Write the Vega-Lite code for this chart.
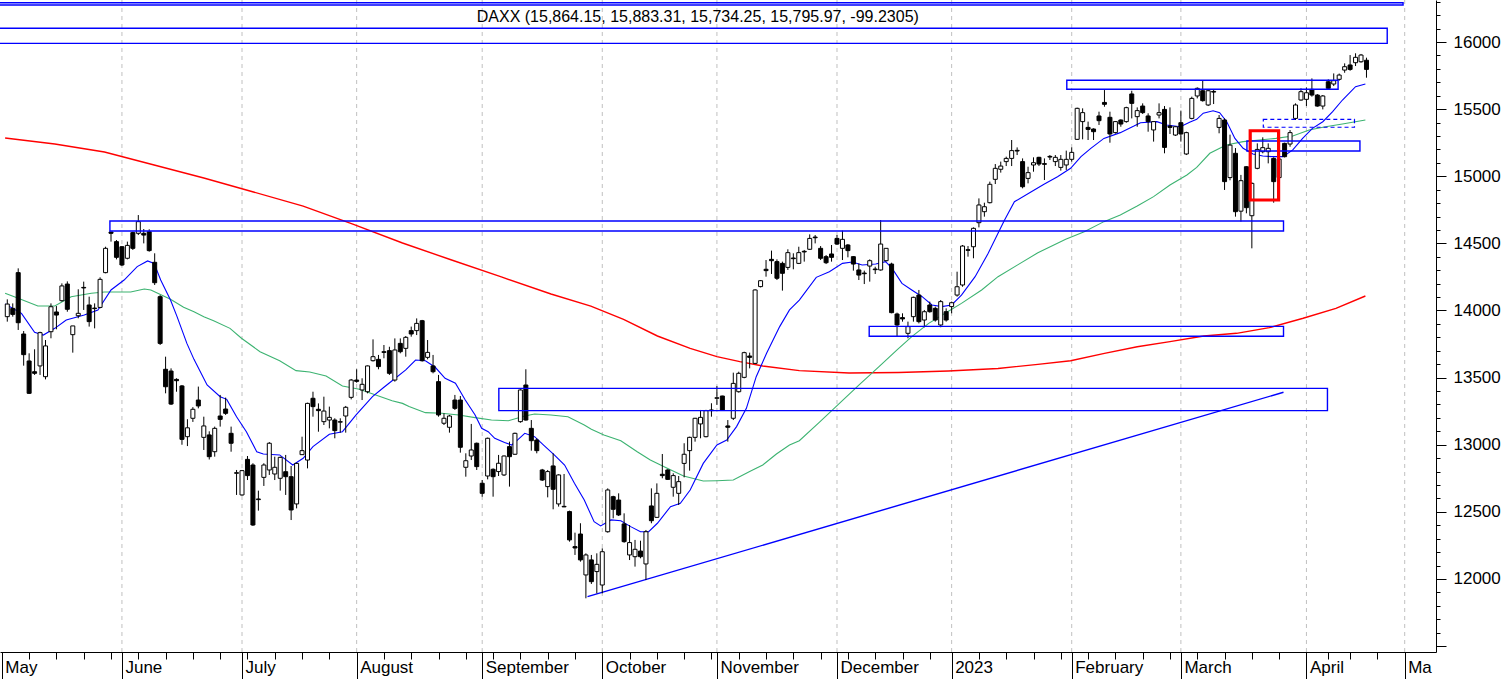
{
  "$schema": "https://vega.github.io/schema/vega-lite/v6.json",
  "width": 1436,
  "height": 652,
  "autosize": {"type": "none"},
  "padding": {"left": 0, "top": 0, "right": 70, "bottom": 27},
  "background": "white",
  "config": {
    "view": {"stroke": null},
    "font": "Liberation Sans",
    "axis": {"labelFont": "Liberation Sans", "labelFontSize": 17, "labelColor": "black", "domainColor": "black", "tickColor": "black", "domainWidth": 1, "tickWidth": 1}
  },
  "resolve": {"axis": {"x": "independent", "y": "independent"}},
  "datasets": {
    "candles": [
      {"i":1,"o":13954,"h":14083,"l":13917,"c":14048},
      {"i":2,"o":14016,"h":14053,"l":13954,"c":13971},
      {"i":3,"o":14282,"h":14314,"l":13855,"c":13909},
      {"i":4,"o":13825,"h":13847,"l":13589,"c":13671},
      {"i":5,"o":13624,"h":13681,"l":13378,"c":13383},
      {"i":6,"o":13544,"h":13711,"l":13520,"c":13532},
      {"i":7,"o":13587,"h":13842,"l":13520,"c":13835},
      {"i":8,"o":13507,"h":13780,"l":13487,"c":13736},
      {"i":9,"o":13842,"h":14053,"l":13793,"c":14028},
      {"i":10,"o":13989,"h":14033,"l":13860,"c":13966},
      {"i":11,"o":14073,"h":14202,"l":14066,"c":14183},
      {"i":12,"o":14197,"h":14217,"l":13991,"c":14009},
      {"i":13,"o":13820,"h":13885,"l":13686,"c":13885},
      {"i":14,"o":13961,"h":14158,"l":13942,"c":13979},
      {"i":15,"o":14172,"h":14215,"l":14004,"c":14168},
      {"i":16,"o":14041,"h":14103,"l":13880,"c":13917},
      {"i":17,"o":14018,"h":14053,"l":13867,"c":14014},
      {"i":18,"o":14023,"h":14247,"l":14016,"c":14232},
      {"i":19,"o":14282,"h":14475,"l":14277,"c":14463},
      {"i":20,"o":14585,"h":14587,"l":14513,"c":14575},
      {"i":21,"o":14513,"h":14525,"l":14381,"c":14396},
      {"i":22,"o":14475,"h":14480,"l":14331,"c":14339},
      {"i":23,"o":14389,"h":14513,"l":14381,"c":14485},
      {"i":24,"o":14580,"h":14587,"l":14451,"c":14463},
      {"i":25,"o":14575,"h":14711,"l":14562,"c":14662},
      {"i":26,"o":14575,"h":14607,"l":14500,"c":14562},
      {"i":27,"o":14587,"h":14605,"l":14438,"c":14446},
      {"i":28,"o":14359,"h":14426,"l":14190,"c":14207},
      {"i":29,"o":14103,"h":14115,"l":13743,"c":13755},
      {"i":30,"o":13562,"h":13656,"l":13383,"c":13432},
      {"i":31,"o":13549,"h":13569,"l":13296,"c":13303},
      {"i":32,"o":13487,"h":13495,"l":13395,"c":13477},
      {"i":33,"o":13438,"h":13445,"l":13000,"c":13040},
      {"i":34,"o":13060,"h":13190,"l":12990,"c":13126},
      {"i":35,"o":13197,"h":13280,"l":13170,"c":13264},
      {"i":36,"o":13333,"h":13433,"l":13271,"c":13289},
      {"i":37,"o":13055,"h":13209,"l":12961,"c":13140},
      {"i":38,"o":13073,"h":13100,"l":12890,"c":12911},
      {"i":39,"o":12948,"h":13135,"l":12911,"c":13122},
      {"i":40,"o":13214,"h":13371,"l":13135,"c":13189},
      {"i":41,"o":13266,"h":13351,"l":13222,"c":13234},
      {"i":42,"o":13085,"h":13135,"l":12948,"c":13011},
      {"i":43,"o":12787,"h":12812,"l":12626,"c":12792},
      {"i":44,"o":12626,"h":12812,"l":12620,"c":12807},
      {"i":45,"o":12891,"h":12916,"l":12737,"c":12770},
      {"i":46,"o":12849,"h":12862,"l":12395,"c":12402},
      {"i":47,"o":12596,"h":12658,"l":12509,"c":12591},
      {"i":48,"o":12757,"h":12862,"l":12693,"c":12849},
      {"i":49,"o":12812,"h":13020,"l":12775,"c":13011},
      {"i":50,"o":12782,"h":12911,"l":12737,"c":12832},
      {"i":51,"o":12750,"h":12911,"l":12658,"c":12906},
      {"i":52,"o":12799,"h":12924,"l":12626,"c":12762},
      {"i":53,"o":12762,"h":12842,"l":12439,"c":12514},
      {"i":54,"o":12559,"h":12866,"l":12526,"c":12861},
      {"i":55,"o":12926,"h":13060,"l":12924,"c":12956},
      {"i":56,"o":12886,"h":13313,"l":12824,"c":13308},
      {"i":57,"o":13346,"h":13395,"l":13209,"c":13284},
      {"i":58,"o":13264,"h":13308,"l":13097,"c":13254},
      {"i":59,"o":13172,"h":13358,"l":13147,"c":13251},
      {"i":60,"o":13184,"h":13284,"l":13122,"c":13204},
      {"i":61,"o":13184,"h":13197,"l":13048,"c":13105},
      {"i":62,"o":13168,"h":13197,"l":13090,"c":13172},
      {"i":63,"o":13214,"h":13289,"l":13090,"c":13279},
      {"i":64,"o":13353,"h":13490,"l":13338,"c":13482},
      {"i":65,"o":13482,"h":13562,"l":13462,"c":13472},
      {"i":66,"o":13408,"h":13495,"l":13333,"c":13450},
      {"i":67,"o":13395,"h":13590,"l":13383,"c":13587},
      {"i":68,"o":13626,"h":13785,"l":13620,"c":13656},
      {"i":69,"o":13636,"h":13669,"l":13562,"c":13582},
      {"i":70,"o":13693,"h":13743,"l":13644,"c":13688},
      {"i":71,"o":13701,"h":13730,"l":13520,"c":13532},
      {"i":72,"o":13482,"h":13792,"l":13470,"c":13706},
      {"i":73,"o":13755,"h":13792,"l":13681,"c":13693},
      {"i":74,"o":13718,"h":13810,"l":13656,"c":13800},
      {"i":75,"o":13850,"h":13880,"l":13805,"c":13825},
      {"i":76,"o":13850,"h":13941,"l":13817,"c":13904},
      {"i":77,"o":13924,"h":13930,"l":13619,"c":13626},
      {"i":78,"o":13651,"h":13780,"l":13636,"c":13688},
      {"i":79,"o":13587,"h":13669,"l":13532,"c":13544},
      {"i":80,"o":13470,"h":13520,"l":13209,"c":13222},
      {"i":81,"o":13160,"h":13234,"l":13147,"c":13197},
      {"i":82,"o":13130,"h":13222,"l":13090,"c":13214},
      {"i":83,"o":13333,"h":13371,"l":13259,"c":13271},
      {"i":84,"o":13333,"h":13363,"l":12941,"c":12981},
      {"i":85,"o":12832,"h":12936,"l":12762,"c":12881},
      {"i":86,"o":12916,"h":13155,"l":12886,"c":12961},
      {"i":87,"o":13011,"h":13016,"l":12812,"c":12837},
      {"i":88,"o":12713,"h":12737,"l":12613,"c":12638},
      {"i":89,"o":12767,"h":13053,"l":12742,"c":13048},
      {"i":90,"o":12817,"h":12824,"l":12613,"c":12762},
      {"i":91,"o":12800,"h":12924,"l":12767,"c":12862},
      {"i":92,"o":12775,"h":12920,"l":12767,"c":12916},
      {"i":93,"o":12986,"h":13023,"l":12688,"c":12911},
      {"i":94,"o":12929,"h":13090,"l":12925,"c":13085},
      {"i":95,"o":13172,"h":13413,"l":13164,"c":13408},
      {"i":96,"o":13445,"h":13562,"l":13180,"c":13184},
      {"i":97,"o":13122,"h":13184,"l":12956,"c":13030},
      {"i":98,"o":13035,"h":13048,"l":12936,"c":12956},
      {"i":99,"o":12812,"h":12820,"l":12730,"c":12737},
      {"i":100,"o":12688,"h":12812,"l":12608,"c":12800},
      {"i":101,"o":12842,"h":12936,"l":12519,"c":12668},
      {"i":102,"o":12559,"h":12780,"l":12539,"c":12775},
      {"i":103,"o":12541,"h":12782,"l":12535,"c":12537},
      {"i":104,"o":12502,"h":12509,"l":12278,"c":12291},
      {"i":105,"o":12241,"h":12345,"l":12179,"c":12231},
      {"i":106,"o":12335,"h":12415,"l":12129,"c":12142},
      {"i":107,"o":12030,"h":12191,"l":11856,"c":12179},
      {"i":108,"o":12142,"h":12179,"l":11963,"c":11980},
      {"i":109,"o":12055,"h":12191,"l":11893,"c":12109},
      {"i":110,"o":11955,"h":12228,"l":11893,"c":12203},
      {"i":111,"o":12352,"h":12675,"l":12345,"c":12663},
      {"i":112,"o":12613,"h":12620,"l":12452,"c":12519},
      {"i":113,"o":12588,"h":12638,"l":12469,"c":12477},
      {"i":114,"o":12410,"h":12489,"l":12270,"c":12278},
      {"i":115,"o":12179,"h":12402,"l":12141,"c":12271},
      {"i":116,"o":12166,"h":12291,"l":12092,"c":12221},
      {"i":117,"o":12208,"h":12285,"l":12154,"c":12166},
      {"i":118,"o":12112,"h":12365,"l":11992,"c":12352},
      {"i":119,"o":12544,"h":12675,"l":12415,"c":12434},
      {"i":120,"o":12459,"h":12712,"l":12455,"c":12638},
      {"i":121,"o":12780,"h":12931,"l":12750,"c":12770},
      {"i":122,"o":12812,"h":12818,"l":12738,"c":12742},
      {"i":123,"o":12683,"h":12787,"l":12613,"c":12770},
      {"i":124,"o":12638,"h":12767,"l":12551,"c":12725},
      {"i":125,"o":12861,"h":13011,"l":12757,"c":12929},
      {"i":126,"o":12956,"h":13060,"l":12807,"c":13055},
      {"i":127,"o":13055,"h":13200,"l":13023,"c":13197},
      {"i":128,"o":13155,"h":13259,"l":13048,"c":13204},
      {"i":129,"o":13060,"h":13260,"l":13055,"c":13254},
      {"i":130,"o":13259,"h":13309,"l":13209,"c":13254},
      {"i":131,"o":13346,"h":13437,"l":13296,"c":13350},
      {"i":132,"o":13363,"h":13365,"l":13255,"c":13259},
      {"i":133,"o":13140,"h":13184,"l":13023,"c":13130},
      {"i":134,"o":13197,"h":13537,"l":13184,"c":13457},
      {"i":135,"o":13395,"h":13544,"l":13388,"c":13532},
      {"i":136,"o":13502,"h":13693,"l":13495,"c":13686},
      {"i":137,"o":13661,"h":13686,"l":13569,"c":13651},
      {"i":138,"o":13606,"h":14158,"l":13601,"c":14153},
      {"i":139,"o":14178,"h":14227,"l":14172,"c":14222},
      {"i":140,"o":14307,"h":14376,"l":14252,"c":14297},
      {"i":141,"o":14381,"h":14446,"l":14272,"c":14371},
      {"i":142,"o":14364,"h":14381,"l":14227,"c":14240},
      {"i":143,"o":14351,"h":14364,"l":14148,"c":14277},
      {"i":144,"o":14321,"h":14456,"l":14302,"c":14431},
      {"i":145,"o":14391,"h":14426,"l":14307,"c":14386},
      {"i":146,"o":14351,"h":14475,"l":14346,"c":14431},
      {"i":147,"o":14441,"h":14451,"l":14364,"c":14436},
      {"i":148,"o":14456,"h":14567,"l":14451,"c":14537},
      {"i":149,"o":14547,"h":14562,"l":14500,"c":14542},
      {"i":150,"o":14463,"h":14480,"l":14376,"c":14389},
      {"i":151,"o":14401,"h":14413,"l":14346,"c":14356},
      {"i":152,"o":14421,"h":14488,"l":14364,"c":14396},
      {"i":153,"o":14537,"h":14562,"l":14488,"c":14495},
      {"i":154,"o":14463,"h":14595,"l":14376,"c":14530},
      {"i":155,"o":14488,"h":14495,"l":14396,"c":14446},
      {"i":156,"o":14401,"h":14405,"l":14297,"c":14346},
      {"i":157,"o":14302,"h":14351,"l":14227,"c":14264},
      {"i":158,"o":14279,"h":14297,"l":14197,"c":14274},
      {"i":159,"o":14331,"h":14381,"l":14215,"c":14371},
      {"i":160,"o":14309,"h":14326,"l":14272,"c":14304},
      {"i":161,"o":14302,"h":14674,"l":14297,"c":14495},
      {"i":162,"o":14371,"h":14465,"l":14365,"c":14463},
      {"i":163,"o":14346,"h":14356,"l":13979,"c":13984},
      {"i":164,"o":13974,"h":13984,"l":13805,"c":13892},
      {"i":165,"o":13947,"h":13979,"l":13917,"c":13937},
      {"i":166,"o":13830,"h":13917,"l":13793,"c":13880},
      {"i":167,"o":13954,"h":14103,"l":13917,"c":14098},
      {"i":168,"o":14115,"h":14153,"l":13904,"c":13917},
      {"i":169,"o":13929,"h":14004,"l":13875,"c":13991},
      {"i":170,"o":14041,"h":14066,"l":13984,"c":13991},
      {"i":171,"o":14016,"h":14029,"l":13917,"c":13929},
      {"i":172,"o":13892,"h":14078,"l":13875,"c":14066},
      {"i":173,"o":13991,"h":14016,"l":13917,"c":13929},
      {"i":174,"o":14029,"h":14066,"l":13979,"c":14058},
      {"i":175,"o":14115,"h":14289,"l":14103,"c":14177},
      {"i":176,"o":14190,"h":14488,"l":14177,"c":14480},
      {"i":177,"o":14453,"h":14480,"l":14401,"c":14448},
      {"i":178,"o":14475,"h":14619,"l":14389,"c":14612},
      {"i":179,"o":14654,"h":14835,"l":14619,"c":14786},
      {"i":180,"o":14736,"h":14803,"l":14699,"c":14773},
      {"i":181,"o":14803,"h":14960,"l":14798,"c":14940},
      {"i":182,"o":14977,"h":15091,"l":14942,"c":15059},
      {"i":183,"o":15052,"h":15109,"l":15027,"c":15076},
      {"i":184,"o":15109,"h":15146,"l":15076,"c":15133},
      {"i":185,"o":15133,"h":15270,"l":15076,"c":15191},
      {"i":186,"o":15193,"h":15215,"l":15158,"c":15188},
      {"i":187,"o":15109,"h":15133,"l":14910,"c":14922},
      {"i":188,"o":14984,"h":15071,"l":14947,"c":15027},
      {"i":189,"o":15084,"h":15141,"l":15034,"c":15101},
      {"i":190,"o":15141,"h":15145,"l":15076,"c":15091},
      {"i":191,"o":15094,"h":15133,"l":14972,"c":15089},
      {"i":192,"o":15148,"h":15158,"l":15121,"c":15143},
      {"i":193,"o":15109,"h":15158,"l":15076,"c":15141},
      {"i":194,"o":15066,"h":15158,"l":15042,"c":15126},
      {"i":195,"o":15084,"h":15191,"l":15047,"c":15126},
      {"i":196,"o":15126,"h":15215,"l":15109,"c":15178},
      {"i":197,"o":15275,"h":15511,"l":15270,"c":15506},
      {"i":198,"o":15407,"h":15506,"l":15275,"c":15474},
      {"i":199,"o":15364,"h":15407,"l":15270,"c":15349},
      {"i":200,"o":15352,"h":15357,"l":15270,"c":15332},
      {"i":201,"o":15449,"h":15481,"l":15382,"c":15414},
      {"i":202,"o":15550,"h":15642,"l":15518,"c":15536},
      {"i":203,"o":15439,"h":15481,"l":15250,"c":15315},
      {"i":204,"o":15325,"h":15410,"l":15318,"c":15407},
      {"i":205,"o":15419,"h":15424,"l":15369,"c":15389},
      {"i":206,"o":15407,"h":15518,"l":15399,"c":15511},
      {"i":207,"o":15613,"h":15637,"l":15431,"c":15543},
      {"i":208,"o":15444,"h":15513,"l":15369,"c":15489},
      {"i":209,"o":15523,"h":15543,"l":15464,"c":15474},
      {"i":210,"o":15449,"h":15469,"l":15332,"c":15407},
      {"i":211,"o":15345,"h":15410,"l":15258,"c":15407},
      {"i":212,"o":15456,"h":15543,"l":15431,"c":15474},
      {"i":213,"o":15498,"h":15523,"l":15171,"c":15215},
      {"i":214,"o":15374,"h":15513,"l":15315,"c":15364},
      {"i":215,"o":15307,"h":15372,"l":15300,"c":15369},
      {"i":216,"o":15399,"h":15489,"l":15258,"c":15315},
      {"i":217,"o":15166,"h":15332,"l":15158,"c":15325},
      {"i":218,"o":15431,"h":15593,"l":15424,"c":15580},
      {"i":219,"o":15598,"h":15662,"l":15580,"c":15655},
      {"i":220,"o":15637,"h":15712,"l":15556,"c":15563},
      {"i":221,"o":15531,"h":15647,"l":15523,"c":15637},
      {"i":222,"o":15632,"h":15647,"l":15538,"c":15627},
      {"i":223,"o":15364,"h":15456,"l":15320,"c":15431},
      {"i":224,"o":15419,"h":15431,"l":14898,"c":14960},
      {"i":225,"o":14990,"h":15310,"l":14970,"c":15232},
      {"i":226,"o":15171,"h":15210,"l":14699,"c":14736},
      {"i":227,"o":14740,"h":15010,"l":14662,"c":14967},
      {"i":228,"o":15071,"h":15075,"l":14724,"c":14766},
      {"i":229,"o":14706,"h":14955,"l":14463,"c":14947},
      {"i":230,"o":15059,"h":15245,"l":15052,"c":15200},
      {"i":231,"o":15183,"h":15290,"l":15171,"c":15213},
      {"i":232,"o":15183,"h":15245,"l":15096,"c":15208},
      {"i":233,"o":15133,"h":15141,"l":14803,"c":14960},
      {"i":234,"o":14990,"h":15140,"l":14960,"c":15128},
      {"i":235,"o":15245,"h":15250,"l":15140,"c":15146},
      {"i":236,"o":15240,"h":15344,"l":15220,"c":15325},
      {"i":237,"o":15431,"h":15543,"l":15419,"c":15531},
      {"i":238,"o":15568,"h":15655,"l":15563,"c":15630},
      {"i":239,"o":15573,"h":15662,"l":15523,"c":15622},
      {"i":240,"o":15647,"h":15729,"l":15593,"c":15605},
      {"i":241,"o":15605,"h":15612,"l":15518,"c":15523},
      {"i":242,"o":15523,"h":15605,"l":15498,"c":15598},
      {"i":243,"o":15704,"h":15722,"l":15647,"c":15655},
      {"i":244,"o":15687,"h":15766,"l":15672,"c":15712},
      {"i":245,"o":15722,"h":15765,"l":15712,"c":15754},
      {"i":246,"o":15791,"h":15841,"l":15771,"c":15816},
      {"i":247,"o":15829,"h":15903,"l":15786,"c":15796},
      {"i":248,"o":15846,"h":15916,"l":15821,"c":15886},
      {"i":249,"o":15853,"h":15911,"l":15846,"c":15903},
      {"i":250,"o":15864.15,"h":15883.31,"l":15734.25,"c":15795.97}
    ],
    "ma20": [
      {"i":0.6,"v":14048},{"i":3.6,"v":13979},{"i":6.0,"v":13837},{"i":7.6,"v":13817},{"i":9.7,"v":13867},{"i":11.8,"v":13929},{"i":15.1,"v":13966},{"i":17.6,"v":14004},{"i":20.0,"v":14153},{"i":22.4,"v":14227},{"i":24.8,"v":14327},{"i":26.7,"v":14369},{"i":27.9,"v":14351},{"i":29.1,"v":14227},{"i":30.9,"v":14078},{"i":32.1,"v":13954},{"i":33.9,"v":13755},{"i":35.2,"v":13636},{"i":37.6,"v":13445},{"i":40.0,"v":13358},{"i":41.2,"v":13338},{"i":43.0,"v":13209},{"i":44.8,"v":13097},{"i":46.7,"v":12948},{"i":47.9,"v":12931},{"i":50.9,"v":12924},{"i":53.3,"v":12849},{"i":55.2,"v":12899},{"i":57.0,"v":12986},{"i":60.0,"v":13078},{"i":62.4,"v":13097},{"i":64.9,"v":13222},{"i":67.9,"v":13358},{"i":70.0,"v":13428},{"i":71.5,"v":13477},{"i":74.0,"v":13557},{"i":75.8,"v":13631},{"i":77.6,"v":13626},{"i":79.4,"v":13577},{"i":81.2,"v":13495},{"i":83.1,"v":13458},{"i":84.9,"v":13333},{"i":86.7,"v":13222},{"i":87.9,"v":13122},{"i":89.1,"v":13097},{"i":90.3,"v":13048},{"i":92.1,"v":13016},{"i":93.4,"v":12998},{"i":94.6,"v":13040},{"i":95.8,"v":13085},{"i":97.6,"v":13060},{"i":99.4,"v":12991},{"i":101.2,"v":12924},{"i":103.1,"v":12849},{"i":104.9,"v":12713},{"i":106.7,"v":12588},{"i":108.5,"v":12427},{"i":109.7,"v":12395},{"i":111.6,"v":12440},{"i":113.4,"v":12434},{"i":115.2,"v":12390},{"i":117.0,"v":12352},{"i":118.5,"v":12352},{"i":120.1,"v":12415},{"i":122.5,"v":12539},{"i":124.3,"v":12563},{"i":126.1,"v":12663},{"i":128.5,"v":12861},{"i":131.0,"v":12998},{"i":132.8,"v":13035},{"i":134.6,"v":13135},{"i":136.4,"v":13271},{"i":138.2,"v":13507},{"i":140.1,"v":13681},{"i":142.5,"v":13880},{"i":144.3,"v":14004},{"i":146.1,"v":14078},{"i":149.2,"v":14247},{"i":151.6,"v":14289},{"i":154.0,"v":14351},{"i":155.8,"v":14361},{"i":157.6,"v":14339},{"i":160.1,"v":14346},{"i":161.9,"v":14364},{"i":163.1,"v":14314},{"i":164.9,"v":14202},{"i":166.7,"v":14153},{"i":168.6,"v":14103},{"i":170.4,"v":14041},{"i":172.2,"v":14029},{"i":174.0,"v":14041},{"i":175.8,"v":14115},{"i":178.3,"v":14252},{"i":180.7,"v":14426},{"i":182.5,"v":14575},{"i":183.7,"v":14674},{"i":185.5,"v":14810},{"i":188.6,"v":14885},{"i":191.0,"v":14942},{"i":193.4,"v":14997},{"i":195.8,"v":15059},{"i":197.7,"v":15146},{"i":199.5,"v":15208},{"i":201.9,"v":15282},{"i":204.9,"v":15325},{"i":207.4,"v":15374},{"i":208.6,"v":15399},{"i":211.6,"v":15407},{"i":213.4,"v":15382},{"i":215.9,"v":15369},{"i":217.7,"v":15405},{"i":218.9,"v":15424},{"i":220.1,"v":15470},{"i":221.9,"v":15488},{"i":223.1,"v":15473},{"i":224.4,"v":15406},{"i":225.9,"v":15282},{"i":227.4,"v":15208},{"i":229.2,"v":15166},{"i":231.0,"v":15151},{"i":232.9,"v":15146},{"i":234.7,"v":15146},{"i":236.5,"v":15196},{"i":238.3,"v":15282},{"i":240.1,"v":15357},{"i":242.0,"v":15406},{"i":243.8,"v":15481},{"i":245.6,"v":15568},{"i":248.0,"v":15667},{"i":249.8,"v":15687}
    ],
    "ma50": [
      {"i":0.6,"v":14128},{"i":3.0,"v":14091},{"i":6.6,"v":14033},{"i":9.7,"v":14033},{"i":12.7,"v":14103},{"i":16.4,"v":14128},{"i":18.8,"v":14138},{"i":23.6,"v":14138},{"i":26.1,"v":14160},{"i":27.3,"v":14153},{"i":30.9,"v":14083},{"i":33.3,"v":14024},{"i":35.2,"v":13991},{"i":37.0,"v":13954},{"i":38.8,"v":13924},{"i":41.8,"v":13867},{"i":43.9,"v":13793},{"i":47.3,"v":13693},{"i":50.9,"v":13626},{"i":53.9,"v":13552},{"i":56.4,"v":13542},{"i":59.4,"v":13512},{"i":62.4,"v":13438},{"i":65.5,"v":13413},{"i":68.5,"v":13371},{"i":71.5,"v":13328},{"i":73.4,"v":13308},{"i":74.6,"v":13284},{"i":77.6,"v":13239},{"i":80.6,"v":13234},{"i":83.7,"v":13222},{"i":86.7,"v":13202},{"i":89.7,"v":13184},{"i":92.8,"v":13179},{"i":95.8,"v":13214},{"i":97.6,"v":13229},{"i":100.6,"v":13222},{"i":103.7,"v":13209},{"i":106.7,"v":13147},{"i":108.0,"v":13115},{"i":110.3,"v":13073},{"i":113.4,"v":13030},{"i":116.4,"v":12948},{"i":118.8,"v":12886},{"i":121.9,"v":12824},{"i":124.9,"v":12767},{"i":128.5,"v":12730},{"i":131.0,"v":12732},{"i":134.0,"v":12737},{"i":137.0,"v":12800},{"i":139.4,"v":12849},{"i":141.9,"v":12931},{"i":144.3,"v":12998},{"i":146.1,"v":13030},{"i":149.8,"v":13168},{"i":153.4,"v":13306},{"i":157.0,"v":13444},{"i":160.7,"v":13582},{"i":164.0,"v":13706},{"i":166.7,"v":13805},{"i":169.8,"v":13904},{"i":172.8,"v":13979},{"i":175.8,"v":14053},{"i":179.5,"v":14153},{"i":182.5,"v":14252},{"i":186.1,"v":14340},{"i":189.8,"v":14430},{"i":194.9,"v":14530},{"i":198.3,"v":14587},{"i":201.9,"v":14662},{"i":204.9,"v":14711},{"i":208.0,"v":14778},{"i":211.0,"v":14848},{"i":214.0,"v":14935},{"i":217.1,"v":15009},{"i":218.9,"v":15066},{"i":221.3,"v":15171},{"i":224.3,"v":15233},{"i":227.4,"v":15258},{"i":230.4,"v":15270},{"i":233.4,"v":15282},{"i":236.5,"v":15300},{"i":239.5,"v":15344},{"i":242.5,"v":15369},{"i":245.6,"v":15389},{"i":249.8,"v":15419}
    ],
    "ma200": [
      {"i":0.6,"v":15285},{"i":9.7,"v":15240},{"i":18.8,"v":15181},{"i":27.9,"v":15084},{"i":37.0,"v":14987},{"i":46.1,"v":14883},{"i":55.2,"v":14778},{"i":64.3,"v":14644},{"i":73.4,"v":14503},{"i":82.4,"v":14376},{"i":91.5,"v":14250},{"i":100.6,"v":14123},{"i":107.9,"v":14033},{"i":113.9,"v":13934},{"i":120.1,"v":13810},{"i":126.1,"v":13718},{"i":131.0,"v":13656},{"i":135.2,"v":13619},{"i":139.4,"v":13587},{"i":146.1,"v":13552},{"i":155.2,"v":13534},{"i":164.3,"v":13538},{"i":173.4,"v":13549},{"i":182.5,"v":13568},{"i":189.8,"v":13599},{"i":195.8,"v":13626},{"i":202.0,"v":13681},{"i":208.0,"v":13730},{"i":214.0,"v":13768},{"i":220.2,"v":13810},{"i":226.2,"v":13830},{"i":232.2,"v":13872},{"i":238.4,"v":13942},{"i":244.4,"v":14016},{"i":249.8,"v":14108}
    ],
    "boxes": [
      {"x1":-1,"x2":256.7,"y1":16276,"y2":16293,"k":"b"},
      {"x1":-1,"x2":253.8,"y1":15990,"y2":16102,"k":"b"},
      {"x1":195.1,"x2":244.8,"y1":15648,"y2":15715,"k":"b"},
      {"x1":231.1,"x2":247.8,"y1":15365,"y2":15424,"k":"d"},
      {"x1":228.1,"x2":248.8,"y1":15188,"y2":15263,"k":"b"},
      {"x1":228.7,"x2":233.9,"y1":14823,"y2":15339,"k":"r"},
      {"x1":19.8,"x2":234.8,"y1":14592,"y2":14667,"k":"b"},
      {"x1":158.9,"x2":234.8,"y1":13808,"y2":13882,"k":"b"},
      {"x1":91.05,"x2":242.85,"y1":13254,"y2":13420,"k":"b"}
    ],
    "trend": [{"i":107.3,"v":11868,"i2":234.8,"v2":13391}],
    "months": [{"i":22},{"i":44},{"i":65},{"i":88},{"i":110},{"i":131},{"i":153},{"i":174},{"i":196},{"i":216},{"i":239},{"i":257}],
    "caption": [{"i":127.5,"v":16188,"t":"DAXX (15,864.15, 15,883.31, 15,734.25, 15,795.97, -99.2305)"}]
  },
  "layer": [
    {
      "data": {"name": "months"},
      "mark": {"type": "rule", "color": "#c0c0c0", "strokeWidth": 1, "strokeDash": [4, 4]},
      "encoding": {
        "x": {"field": "i", "type": "quantitative", "scale": {"domain": [0.58, 261.82], "nice": false, "zero": false}, "axis": null}
      }
    },
    {
      "data": {"name": "ma200"},
      "mark": {"type": "line", "color": "#ff0000", "strokeWidth": 1.4},
      "encoding": {
        "x": {"field": "i", "type": "quantitative", "scale": {"domain": [0.58, 261.82], "nice": false, "zero": false}, "axis": null},
        "y": {"field": "v", "type": "quantitative", "scale": {"domain": [11456, 16313], "nice": false, "zero": false}, "axis": null}
      }
    },
    {
      "data": {"name": "ma50"},
      "mark": {"type": "line", "color": "#3cb371", "strokeWidth": 1.1},
      "encoding": {
        "x": {"field": "i", "type": "quantitative", "scale": {"domain": [0.58, 261.82], "nice": false, "zero": false}, "axis": null},
        "y": {"field": "v", "type": "quantitative", "scale": {"domain": [11456, 16313], "nice": false, "zero": false}, "axis": null}
      }
    },
    {
      "data": {"name": "ma20"},
      "mark": {"type": "line", "color": "#0000ff", "strokeWidth": 1.1},
      "encoding": {
        "x": {"field": "i", "type": "quantitative", "scale": {"domain": [0.58, 261.82], "nice": false, "zero": false}, "axis": null},
        "y": {"field": "v", "type": "quantitative", "scale": {"domain": [11456, 16313], "nice": false, "zero": false}, "axis": null}
      }
    },
    {
      "data": {"name": "trend"},
      "mark": {"type": "rule", "color": "#0000ff", "strokeWidth": 1.4},
      "encoding": {
        "x": {"field": "i", "type": "quantitative", "scale": {"domain": [0.58, 261.82], "nice": false, "zero": false}, "axis": null},
        "x2": {"field": "i2"},
        "y": {"field": "v", "type": "quantitative", "scale": {"domain": [11456, 16313], "nice": false, "zero": false}, "axis": null},
        "y2": {"field": "v2"}
      }
    },
    {
      "data": {"name": "candles"},
      "mark": {"type": "rule", "color": "black", "strokeWidth": 1},
      "encoding": {
        "x": {
          "field": "i", "type": "quantitative",
          "scale": {"domain": [0.58, 261.82], "nice": false, "zero": false},
          "axis": {
            "orient": "bottom", "title": null, "grid": false,
            "values": [0,22,44,65,88,110,131,153,174,196,216,239,257],
            "labelExpr": "['May','June','July','August','September','October','November','December','2023','February','March','April','Ma'][indexof([0,22,44,65,88,110,131,153,174,196,216,239,257], datum.value)]",
            "tickSize": 27, "labelPadding": -20,
            "labelAlign": "left", "labelBaseline": "top", "labelOffset": 3,
            "labelFlush": false, "labelOverlap": false
          }
        },
        "y": {
          "field": "l", "type": "quantitative",
          "scale": {"domain": [11456, 16313], "nice": false, "zero": false},
          "axis": {
            "orient": "right", "title": null, "grid": false,
            "values": [11500,12000,12500,13000,13500,14000,14500,15000,15500,16000],
            "labelExpr": "datum.value > 11500 ? '' + datum.value : ''",
            "tickSize": 10, "labelPadding": 7, "labelAlign": "left", "labelBaseline": "middle",
            "labelFlush": false, "labelOverlap": false
          }
        },
        "y2": {"field": "h"}
      }
    },
    {
      "data": {"name": "candles"},
      "mark": {"type": "bar", "size": 4, "stroke": "black", "strokeWidth": 1},
      "encoding": {
        "x": {
          "field": "i", "type": "quantitative",
          "scale": {"domain": [0.58, 261.82], "nice": false, "zero": false},
          "axis": {
            "orient": "bottom", "title": null, "grid": false, "domain": false, "labels": false,
            "values": [5,10,15,20,25,30,35,40,45,50,55,60,70,75,80,85,90,95,100,105,115,120,125,130,135,140,145,150,155,160,165,170,179,184,189,194,199,204,209,214,219,224,229,234,243,247,252],
            "tickSize": 7
          }
        },
        "y": {
          "field": "o", "type": "quantitative",
          "scale": {"domain": [11456, 16313], "nice": false, "zero": false},
          "axis": {
            "orient": "right", "title": null, "grid": false, "domain": false, "labels": false,
            "values": [11600,11700,11800,11900,12100,12200,12300,12400,12600,12700,12800,12900,13100,13200,13300,13400,13600,13700,13800,13900,14100,14200,14300,14400,14600,14700,14800,14900,15100,15200,15300,15400,15600,15700,15800,15900,16100,16200,16300],
            "tickSize": 4
          }
        },
        "y2": {"field": "c"},
        "fill": {"condition": {"test": "datum.c < datum.o", "value": "black"}, "value": "white"}
      }
    },
    {
      "data": {"name": "boxes"},
      "transform": [{"filter": "datum.k === 'b'"}],
      "mark": {"type": "rect", "fill": "white", "fillOpacity": 0, "stroke": "#0000ff", "strokeWidth": 1.4},
      "encoding": {
        "x": {"field": "x1", "type": "quantitative", "scale": {"domain": [0.58, 261.82], "nice": false, "zero": false}, "axis": null},
        "x2": {"field": "x2"},
        "y": {"field": "y1", "type": "quantitative", "scale": {"domain": [11456, 16313], "nice": false, "zero": false}, "axis": null},
        "y2": {"field": "y2"}
      }
    },
    {
      "data": {"name": "boxes"},
      "transform": [{"filter": "datum.k === 'd'"}],
      "mark": {"type": "rect", "fill": "white", "fillOpacity": 0, "stroke": "#0000ff", "strokeWidth": 1.2, "strokeDash": [4, 3]},
      "encoding": {
        "x": {"field": "x1", "type": "quantitative", "scale": {"domain": [0.58, 261.82], "nice": false, "zero": false}, "axis": null},
        "x2": {"field": "x2"},
        "y": {"field": "y1", "type": "quantitative", "scale": {"domain": [11456, 16313], "nice": false, "zero": false}, "axis": null},
        "y2": {"field": "y2"}
      }
    },
    {
      "data": {"name": "boxes"},
      "transform": [{"filter": "datum.k === 'r'"}],
      "mark": {"type": "rect", "fill": "white", "fillOpacity": 0, "stroke": "#ff0000", "strokeWidth": 3.2},
      "encoding": {
        "x": {"field": "x1", "type": "quantitative", "scale": {"domain": [0.58, 261.82], "nice": false, "zero": false}, "axis": null},
        "x2": {"field": "x2"},
        "y": {"field": "y1", "type": "quantitative", "scale": {"domain": [11456, 16313], "nice": false, "zero": false}, "axis": null},
        "y2": {"field": "y2"}
      }
    },
    {
      "data": {"name": "caption"},
      "mark": {"type": "text", "font": "Liberation Sans", "fontSize": 16, "color": "black", "align": "center", "baseline": "middle"},
      "encoding": {
        "x": {"field": "i", "type": "quantitative", "scale": {"domain": [0.58, 261.82], "nice": false, "zero": false}, "axis": null},
        "y": {"field": "v", "type": "quantitative", "scale": {"domain": [11456, 16313], "nice": false, "zero": false}, "axis": null},
        "text": {"field": "t"}
      }
    }
  ]
}
